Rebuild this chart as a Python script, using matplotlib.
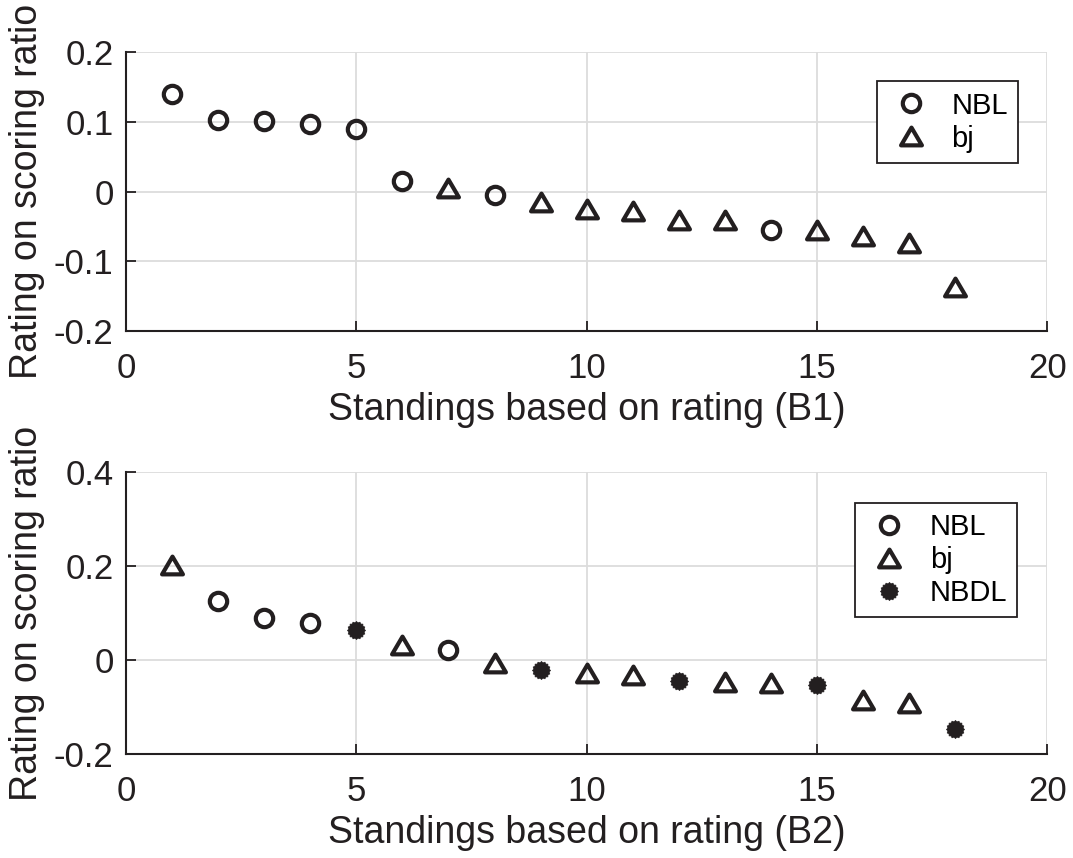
import matplotlib
matplotlib.use('Agg')
import matplotlib.pyplot as plt
from matplotlib.path import Path
import numpy as np

plt.rcParams['font.family'] = ['Liberation Sans', 'DejaVu Sans']

# standings 1..18 for both panels
rank = np.arange(1, 19)

# panel B1: rating value and league of each standing
b1_vals = [0.140, 0.103, 0.101, 0.097, 0.090, 0.015, 0.005, -0.005, -0.015,
           -0.025, -0.027, -0.040, -0.041, -0.055, -0.055, -0.064, -0.073, -0.137]
b1_league = ['NBL', 'NBL', 'NBL', 'NBL', 'NBL', 'NBL', 'bj', 'NBL', 'bj',
             'bj', 'bj', 'bj', 'bj', 'NBL', 'bj', 'bj', 'bj', 'bj']

# panel B2
b2_vals = [0.202, 0.125, 0.089, 0.079, 0.064, 0.032, 0.021, -0.006, -0.021,
           -0.028, -0.032, -0.045, -0.047, -0.049, -0.053, -0.085, -0.091, -0.147]
b2_league = ['bj', 'NBL', 'NBL', 'NBL', 'NBDL', 'bj', 'NBL', 'bj', 'NBDL',
             'bj', 'bj', 'NBDL', 'bj', 'bj', 'NBDL', 'bj', 'bj', 'NBDL']

INK = '#231f20'

# filled blob with a ragged rim (thick asterisk look)
ang = np.linspace(0, 2 * np.pi, 33)[:-1]
rad = np.where(np.arange(32) % 2 == 0, 1.0, 0.86)
blob = Path(np.column_stack([rad * np.cos(ang), rad * np.sin(ang)]).tolist()
            + [[1.0, 0.0]], closed=True)

# slightly squat triangle, centred on its box
tri = Path([[0, 0.85], [-1, -0.85], [1, -0.85], [0, 0.85]], closed=True)

styles = {
    'NBL': dict(marker='o', markersize=12.5, markerfacecolor='none',
                markeredgecolor=INK, markeredgewidth=3),
    'bj': dict(marker=tri, markersize=15, markerfacecolor='none',
               markeredgecolor=INK, markeredgewidth=3),
    'NBDL': dict(marker=blob, markersize=13, markerfacecolor=INK,
                 markeredgecolor=INK, markeredgewidth=0.5),
}


def draw(ax, vals, league, order, ylim, yticks, ytl, xlabel, anchor):
    vals = np.array(vals)
    league = np.array(league)
    for name in order:
        m = league == name
        ax.plot(rank[m], vals[m], linestyle='none', label=name,
                clip_on=False, **styles[name])
    ax.set_xlim(0, 20)
    ax.set_ylim(*ylim)
    ax.set_xticks([0, 5, 10, 15, 20])
    ax.set_yticks(yticks)
    ax.set_yticklabels(ytl)
    ax.grid(True, color='#dcdcdc', linewidth=1.3)
    ax.set_axisbelow(True)
    ax.tick_params(direction='in', length=7, width=1.3, labelsize=25,
                   colors=INK)
    ax.tick_params(axis='y', pad=9)
    ax.tick_params(axis='x', pad=15)
    ax.spines['top'].set_visible(False)
    ax.spines['right'].set_visible(False)
    for s in ('left', 'bottom'):
        ax.spines[s].set_linewidth(1.5)
        ax.spines[s].set_color(INK)
    ax.set_xlabel(xlabel, fontsize=27, color=INK, labelpad=5)
    ax.set_ylabel('Rating on scoring ratio', fontsize=27, color=INK, labelpad=6)
    leg = ax.legend(loc='upper right', bbox_to_anchor=anchor, fontsize=21,
                    frameon=True, fancybox=False, edgecolor=INK, framealpha=1,
                    handletextpad=0.6, borderpad=0.35, labelspacing=0.17,
                    handlelength=1.6, borderaxespad=0)
    leg.get_frame().set_linewidth(1.3)


fig = plt.figure(figsize=(10.73, 8.58), dpi=100)
ax1 = fig.add_axes([0.1175, 0.614, 0.8585, 0.325])
ax2 = fig.add_axes([0.1175, 0.121, 0.8585, 0.329])

draw(ax1, b1_vals, b1_league, ['NBL', 'bj'], (-0.2, 0.2),
     [-0.2, -0.1, 0, 0.1, 0.2], ['-0.2', '-0.1', '0', '0.1', '0.2'],
     'Standings based on rating (B1)', (0.9685, 0.896))
draw(ax2, b2_vals, b2_league, ['NBL', 'bj', 'NBDL'], (-0.2, 0.4),
     [-0.2, 0, 0.2, 0.4], ['-0.2', '0', '0.2', '0.4'],
     'Standings based on rating (B2)', (0.9675, 0.890))

fig.savefig('out.png', dpi=100, facecolor='white')
